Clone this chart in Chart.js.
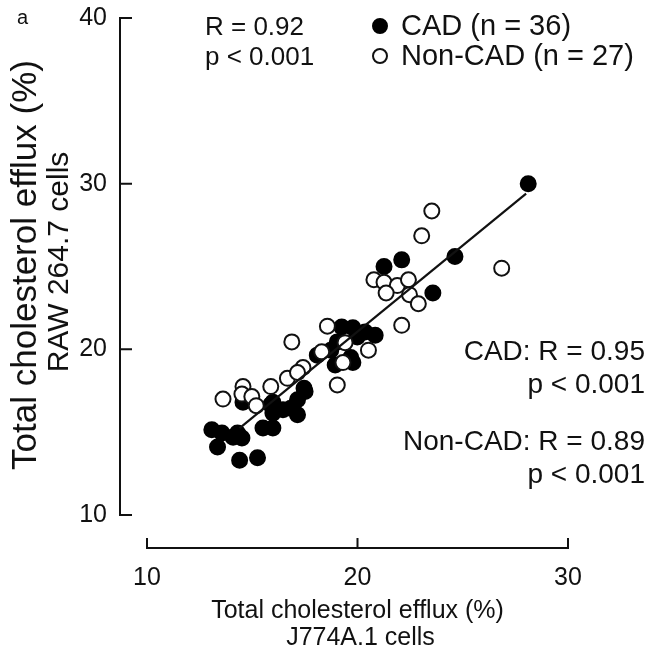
<!DOCTYPE html>
<html>
<head>
<meta charset="utf-8">
<script src="https://cdn.jsdelivr.net/npm/chart.js@4.4.0/dist/chart.umd.min.js"></script>
<style>
  html, body { margin: 0; padding: 0; background: #fff; }
  #wrap { width: 656px; height: 656px; }
</style>
</head>
<body>
<div id="wrap"><canvas id="c" width="656" height="656"></canvas></div>
<script>
// CAD patients (filled circles), efflux % : J774A.1 (x) vs RAW 264.7 (y)
const cadX = [28.11, 24.63, 21.26, 22.10, 23.58, 19.25, 19.78, 20.36, 20.84, 19.04, 19.68, 18.09,
              18.94, 17.46, 14.56, 17.51, 17.15, 17.15, 15.88, 15.98, 16.46, 15.51, 15.98, 13.08,
              13.56, 13.35, 14.30, 14.51, 14.40, 15.25, 18.73, 19.99, 19.78, 15.98, 14.09, 16.83];
const cadY = [30.0, 25.6, 25.0, 25.4, 23.4, 21.35, 21.3, 21.05, 20.85, 20.45, 19.5, 19.65,
              19.05, 17.65, 16.8, 17.45, 16.95, 16.05, 16.65, 16.15, 16.35, 15.25, 15.25, 15.15,
              14.95, 14.1, 14.95, 14.65, 13.3, 13.45, 19.95, 20.75, 19.2, 16.8, 14.7, 16.45];

// Non-CAD patients (open circles)
const nonCadX = [23.53, 23.05, 26.85, 20.78, 21.26, 21.89, 22.42, 21.36, 22.47, 22.89, 18.57, 22.10,
                 19.41, 20.52, 18.30, 19.31, 17.41, 16.88, 19.04, 13.61, 14.56, 14.51, 14.98, 15.19,
                 15.88, 16.67, 17.15];
const nonCadY = [28.35, 26.85, 24.9, 24.2, 24.05, 23.85, 24.2, 23.4, 23.3, 22.75, 21.4, 21.45,
                 20.4, 19.95, 19.85, 19.2, 18.9, 20.45, 17.85, 17.0, 17.75, 17.3, 17.15, 16.6,
                 17.75, 18.25, 18.6];

// pooled regression line, end points
const fitX = [14.40, 28.01];
const fitY = [15.25, 29.4];

const xTicks = [10, 20, 30];
const yTicks = [10, 20, 30, 40];

const FONT = '"Liberation Sans", Arial, Helvetica, sans-serif';

function toPoints(xs, ys) {
  return xs.map((x, i) => ({ x: x, y: ys[i] }));
}

// axes sit apart from the plot area, so they are drawn here from the scales
const detachedAxes = {
  id: 'detachedAxes',
  afterDraw(chart) {
    const ctx = chart.ctx;
    const xs = chart.scales.x;
    const ys = chart.scales.y;
    const area = chart.chartArea;
    const axX = area.left - 27;
    const axY = area.bottom + 33;

    ctx.save();
    ctx.strokeStyle = '#111';
    ctx.fillStyle = '#111';
    ctx.lineWidth = 2;
    ctx.lineJoin = 'miter';

    // y axis with inward ticks
    const yTop = ys.getPixelForValue(yTicks[yTicks.length - 1]);
    const yBot = ys.getPixelForValue(yTicks[0]);
    ctx.beginPath();
    ctx.moveTo(axX + 12, yTop);
    ctx.lineTo(axX, yTop);
    ctx.lineTo(axX, yBot);
    ctx.lineTo(axX + 12, yBot);
    yTicks.slice(1, -1).forEach(v => {
      const p = ys.getPixelForValue(v);
      ctx.moveTo(axX, p);
      ctx.lineTo(axX + 12, p);
    });
    ctx.stroke();

    // x axis
    const xL = xs.getPixelForValue(xTicks[0]);
    const xR = xs.getPixelForValue(xTicks[xTicks.length - 1]);
    ctx.beginPath();
    ctx.moveTo(xL, axY - 10);
    ctx.lineTo(xL, axY);
    ctx.lineTo(xR, axY);
    ctx.lineTo(xR, axY - 10);
    xTicks.slice(1, -1).forEach(v => {
      const p = xs.getPixelForValue(v);
      ctx.moveTo(p, axY);
      ctx.lineTo(p, axY - 10);
    });
    ctx.stroke();

    // tick labels
    ctx.font = '25px ' + FONT;
    ctx.textAlign = 'right';
    ctx.textBaseline = 'middle';
    yTicks.forEach(v => ctx.fillText(String(v), axX - 13, ys.getPixelForValue(v)));
    ctx.textAlign = 'center';
    ctx.textBaseline = 'alphabetic';
    xTicks.forEach(v => ctx.fillText(String(v), xs.getPixelForValue(v), axY + 37));

    // axis titles
    ctx.font = '25px ' + FONT;
    ctx.fillText('Total cholesterol efflux (%)', (xL + xR) / 2, 618);
    ctx.fillText('J774A.1 cells', (xL + xR) / 2 + 3, 645);

    ctx.save();
    ctx.translate(36, 265);
    ctx.rotate(-Math.PI / 2);
    ctx.font = '35px ' + FONT;
    ctx.fillText('Total cholesterol efflux (%)', 0, 0);
    ctx.font = '30px ' + FONT;
    ctx.fillText('RAW 264.7 cells', 3, 32);
    ctx.restore();

    // panel letter
    ctx.textAlign = 'left';
    ctx.font = '20px ' + FONT;
    ctx.fillText('a', 17, 24);

    // pooled statistics
    ctx.font = '26px ' + FONT;
    ctx.fillText('R = 0.92', 205, 35);
    ctx.fillText('p < 0.001', 205, 65);

    // legend
    const sets = chart.data.datasets.slice(0, 2);
    const legY = [35, 65];
    ctx.font = '29px ' + FONT;
    sets.forEach((ds, i) => {
      ctx.beginPath();
      ctx.arc(380, legY[i] - 9, 7, 0, Math.PI * 2);
      ctx.fillStyle = ds.backgroundColor;
      ctx.fill();
      ctx.lineWidth = 2;
      ctx.strokeStyle = ds.borderColor;
      ctx.stroke();
      ctx.fillStyle = '#111';
      ctx.fillText(ds.label, 401, legY[i]);
    });

    // group statistics
    ctx.textAlign = 'right';
    ctx.font = '28px ' + FONT;
    ctx.fillText('CAD: R = 0.95', 645, 360);
    ctx.fillText('p < 0.001', 645, 393);
    ctx.fillText('Non-CAD: R = 0.89', 645, 450);
    ctx.fillText('p < 0.001', 645, 483);

    ctx.restore();
  }
};

new Chart(document.getElementById('c'), {
  type: 'scatter',
  data: {
    datasets: [
      {
        label: 'CAD (n = 36)',
        data: toPoints(cadX, cadY),
        backgroundColor: '#000',
        borderColor: '#000',
        borderWidth: 2,
        pointRadius: 7.5,
        order: 3
      },
      {
        label: 'Non-CAD (n = 27)',
        data: toPoints(nonCadX, nonCadY),
        backgroundColor: '#fff',
        borderColor: '#111',
        borderWidth: 2,
        pointRadius: 7.5,
        order: 2
      },
      {
        type: 'line',
        label: 'fit',
        data: toPoints(fitX, fitY),
        borderColor: '#111',
        borderWidth: 2.2,
        pointRadius: 0,
        fill: false,
        order: 1
      }
    ]
  },
  options: {
    responsive: false,
    devicePixelRatio: 1,
    animation: false,
    layout: { padding: { left: 147, right: 88, top: 18, bottom: 141 } },
    plugins: {
      legend: { display: false },
      tooltip: { enabled: false }
    },
    scales: {
      x: { type: 'linear', min: 10, max: 30, display: false },
      y: { type: 'linear', min: 10, max: 40, display: false }
    }
  },
  plugins: [detachedAxes]
});
</script>
</body>
</html>
